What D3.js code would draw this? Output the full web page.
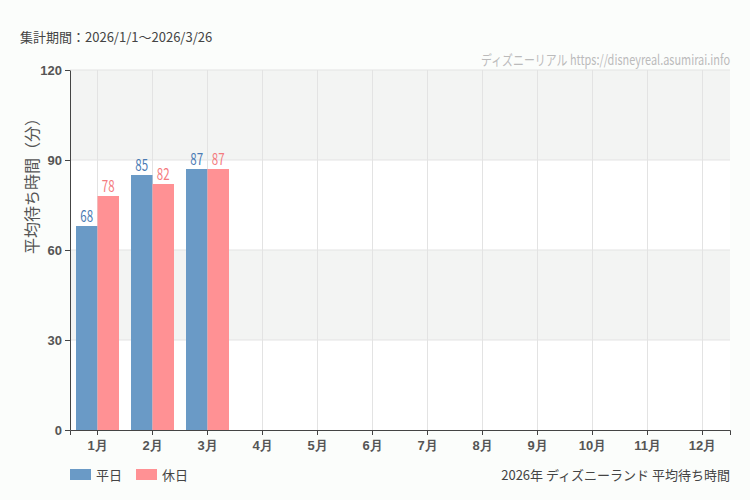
<!DOCTYPE html>
<html>
<head>
<meta charset="utf-8">
<script src="https://cdn.jsdelivr.net/npm/d3@7"></script>
<style>
  body { margin: 0; background: #fbfdfb; }
  svg { display: block; font-family: "Noto Sans CJK JP", "Noto Sans", sans-serif; }
  .axis text { font-size: 13px; fill: #555; font-weight: 600; }
  .axis path, .axis line { stroke: #444; }
</style>
</head>
<body>
<div id="chart"></div>
<script>
// monthly averages (minutes)
var months = ["1月","2月","3月","4月","5月","6月","7月","8月","9月","10月","11月","12月"];
var weekday = [68, 85, 87];
var holiday = [78, 82, 87];
var yTicks = [0, 30, 60, 90, 120];
var seriesNames = ["平日", "休日"];
var colors = ["#6a9ac6", "#ff9194"];
var labelColors = ["#4a7bb3", "#f47b7e"];

var W = 750, H = 500;
var margin = {top: 70, right: 20, bottom: 70, left: 70};
var w = W - margin.left - margin.right, h = H - margin.top - margin.bottom;

var svg = d3.select('#chart').append('svg')
    .attr('width', W)
    .attr('height', H);

var g = svg.append('g').attr('transform', 'translate(' + margin.left + ',' + margin.top + ')');

var x = d3.scaleBand().domain(months).range([0, w]);
var y = d3.scaleLinear().domain([0, 120]).range([h, 0]);

// alternating bands
g.selectAll('rect.band').data(d3.pairs(yTicks)).enter().append('rect')
    .attr('class', 'band')
    .attr('x', 0).attr('width', w)
    .attr('y', function(d){ return y(d[1]); })
    .attr('height', function(d){ return y(d[0]) - y(d[1]); })
    .attr('fill', function(d, i){ return i % 2 ? '#f3f4f3' : '#ffffff'; });

// grid lines
g.selectAll('line.hg').data(yTicks.slice(1)).enter().append('line')
    .attr('x1', 0).attr('x2', w)
    .attr('y1', function(d){ return y(d); }).attr('y2', function(d){ return y(d); })
    .attr('stroke', '#e3e3e3');
g.selectAll('line.vg').data(months).enter().append('line')
    .attr('x1', function(d){ return x(d) + x.bandwidth() / 2; })
    .attr('x2', function(d){ return x(d) + x.bandwidth() / 2; })
    .attr('y1', 0).attr('y2', h)
    .attr('stroke', '#e3e3e3');

// bars
var inner = d3.scaleBand().domain([0, 1]).range([6, x.bandwidth() - 6]);
[weekday, holiday].forEach(function(vals, s){
    var bars = g.append('g');
    bars.selectAll('rect').data(vals).enter().append('rect')
        .attr('x', function(d, i){ return x(months[i]) + inner(s); })
        .attr('width', inner.bandwidth())
        .attr('y', function(d){ return y(d); })
        .attr('height', function(d){ return h - y(d); })
        .attr('fill', colors[s]);
    // narrow labels: squeeze horizontally
    bars.selectAll('text').data(vals).enter().append('text')
        .attr('transform', function(d, i){
            var cx = x(months[i]) + inner(s) + inner.bandwidth() / 2;
            return 'translate(' + cx + ',' + (y(d) - 4) + ') scale(0.72,1)';
        })
        .attr('text-anchor', 'middle')
        .attr('font-size', 16)
        .attr('fill', labelColors[s])
        .text(function(d){ return d; });
});

// axes
g.append('g').attr('class', 'axis')
    .attr('transform', 'translate(0,' + h + ')')
    .call(d3.axisBottom(x).tickSizeOuter(0).tickSize(5).tickPadding(6));
g.append('g').attr('class', 'axis')
    .call(d3.axisLeft(y).tickValues(yTicks).tickSize(5).tickSizeOuter(0).tickPadding(3));

// y title
svg.append('text')
    .attr('transform', 'translate(38,182) rotate(-90)')
    .attr('text-anchor', 'middle')
    .attr('font-size', 16)
    .attr('fill', '#555')
    .text('平均待ち時間（分）');

// header
svg.append('text')
    .attr('x', 20).attr('y', 42)
    .attr('font-size', 13)
    .attr('fill', '#444')
    .text('集計期間：2026/1/1～2026/3/26');

svg.append('text')
    .attr('transform', 'translate(730,65) scale(0.78,1)')
    .attr('text-anchor', 'end')
    .attr('font-size', 14)
    .attr('fill', '#bbb')
    .text('ディズニーリアル https://disneyreal.asumirai.info');

// legend
var lg = svg.append('g').attr('transform', 'translate(70,470)');
seriesNames.forEach(function(n, i){
    lg.append('rect').attr('x', i * 66).attr('y', -1).attr('width', 21).attr('height', 11).attr('fill', colors[i]);
    lg.append('text').attr('x', i * 66 + 26).attr('y', 10)
        .attr('font-size', 13).attr('fill', '#444').text(n);
});

svg.append('text')
    .attr('x', 730).attr('y', 480)
    .attr('text-anchor', 'end')
    .attr('font-size', 13)
    .attr('fill', '#444')
    .text('2026年 ディズニーランド 平均待ち時間');
</script>
</body>
</html>
